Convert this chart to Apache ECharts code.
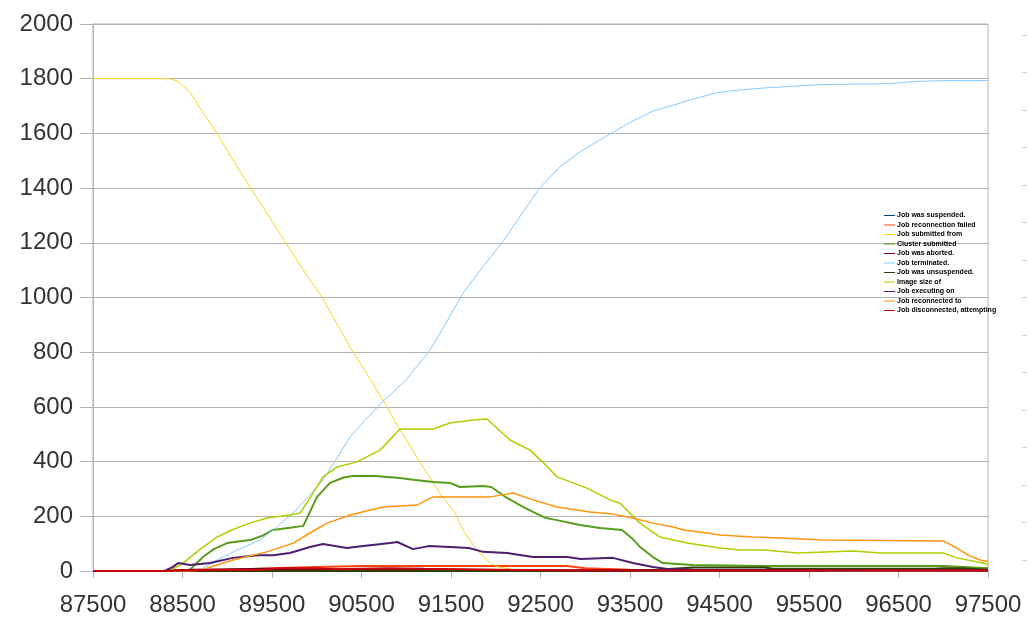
<!DOCTYPE html>
<html>
<head>
<meta charset="utf-8">
<script src="https://cdn.jsdelivr.net/npm/echarts@6/dist/echarts.min.js"></script>
<style>
html,body{margin:0;padding:0;background:#fff;}
#chart{width:1029px;height:622px;}
</style>
</head>
<body>
<div id="chart"></div>
<script>
// ---- data (x = sample number, y = job count) ----
const xTicks = [87500, 88500, 89500, 90500, 91500, 92500, 93500, 94500, 95500, 96500, 97500];
const yTicks = [0, 200, 400, 600, 800, 1000, 1200, 1400, 1600, 1800, 2000];

const seriesNames = [
  "Job was suspended.",
  "Job reconnection failed",
  "Job submitted from",
  "Cluster submitted",
  "Job was aborted.",
  "Job terminated.",
  "Job was unsuspended.",
  "Image size of",
  "Job executing on",
  "Job reconnected to",
  "Job disconnected, attempting"
];

const suspended = [[87500,0],[96000,0],[96100,3],[97500,3]];
const reconnectFailed = [[87500,0],[88300,0],[88500,3],[89000,5],[89500,10],[90000,15],[90500,18],[91500,18],[92800,18],[93000,10],[93500,5],[94000,3],[97500,3]];
const submitted = [[87500,1800],[88360,1800],[88450,1790],[88584,1751],[88700,1690],[88863,1612],[89050,1510],[89254,1404],[89450,1305],[89645,1203],[89850,1100],[90059,1002],[90230,900],[90405,801],[90600,700],[90785,600],[90930,516],[91150,400],[91377,285],[91545,212],[91650,140],[91790,77],[91936,29],[92025,15],[92200,5],[92500,0],[97500,0]];
const cluster = [[87500,0],[88500,0],[88584,5],[88729,51],[88850,80],[88997,102],[89254,113],[89400,130],[89511,150],[89700,158],[89850,165],[90003,271],[90148,322],[90300,342],[90405,347],[90650,347],[90930,340],[91100,333],[91300,325],[91490,322],[91600,307],[91858,311],[91950,307],[92126,267],[92300,235],[92416,216],[92550,195],[92684,186],[92941,168],[93165,157],[93411,150],[93520,120],[93612,88],[93757,51],[93869,29],[94200,22],[95000,18],[97000,18],[97500,10]];
const aborted = [[87500,0],[88300,0],[88600,5],[89500,8],[90500,5],[91500,5],[92800,3],[93800,4],[94000,2],[95700,2],[95800,6],[96000,6],[96100,2],[97500,2]];
const terminated = [[87500,0],[88500,0],[88700,5],[88885,40],[89100,75],[89366,113],[89550,160],[89735,212],[89900,270],[90070,333],[90220,410],[90372,490],[90550,555],[90740,620],[91000,700],[91265,808],[91450,910],[91634,1016],[91850,1110],[92087,1208],[92300,1310],[92494,1402],[92729,1481],[92950,1535],[93143,1572],[93300,1602],[93500,1640],[93757,1681],[94000,1705],[94200,1725],[94461,1748],[94700,1758],[94997,1766],[95300,1772],[95612,1778],[96000,1780],[96400,1782],[96700,1790],[97000,1793],[97500,1793]];
const unsuspended = [[87500,0],[93500,0],[93800,5],[94200,13],[95000,13],[95100,8],[96900,8],[97000,10],[97200,10],[97500,5]];
const imageSize = [[87500,0],[88360,0],[88505,29],[88700,80],[88885,124],[89050,150],[89250,175],[89444,194],[89700,205],[89813,212],[89950,280],[90070,344],[90226,380],[90450,399],[90707,442],[90930,519],[91299,519],[91490,541],[91746,552],[91902,556],[92159,479],[92383,442],[92550,390],[92684,344],[93020,303],[93277,260],[93388,248],[93612,175],[93835,124],[94137,102],[94505,84],[94729,77],[95000,77],[95366,66],[95991,73],[96300,66],[97000,66],[97150,48],[97444,29],[97500,25]];
const executing = [[87500,0],[88300,0],[88394,15],[88450,29],[88584,22],[88807,29],[89064,48],[89332,58],[89511,58],[89700,66],[89925,88],[90070,99],[90338,84],[90520,91],[90820,102],[90900,106],[91075,80],[91250,91],[91490,88],[91700,84],[91858,70],[92126,66],[92416,51],[92800,51],[92950,44],[93310,48],[93533,29],[93757,15],[93900,8],[94200,5],[97500,3]];
const reconnected = [[87500,0],[88600,0],[88700,3],[89064,40],[89444,70],[89735,102],[89925,139],[90115,175],[90372,205],[90740,234],[91120,241],[91299,271],[91936,271],[92193,285],[92416,260],[92684,234],[93053,216],[93310,208],[93533,194],[93757,175],[93980,161],[94100,150],[94360,139],[94505,132],[94874,124],[95176,121],[95656,113],[97000,110],[97150,84],[97280,58],[97410,40],[97500,35]];
const disconnected = [[87500,0],[88300,0],[88500,3],[89400,5],[89600,10],[90000,10],[90200,6],[90800,10],[91200,8],[92000,5],[93000,2],[97500,2]];

const seriesData = [suspended, reconnectFailed, submitted, cluster, aborted, terminated, unsuspended, imageSize, executing, reconnected, disconnected];
const seriesColors = ["#004586","#ff420e","#ffd320","#579d1c","#7e0021","#83caff","#314004","#aecf00","#4b1f6f","#ff950e","#c5000b"];
const seriesWidths = [2, 2, 1, 2, 2, 1, 2, 1.5, 2, 1.5, 2];

const chart = echarts.init(document.getElementById('chart'), null, {renderer:'canvas'});
const gridColor = '#b3b3b3';
const textColor = '#333333';

const series = seriesNames.map((name, i) => ({
  name: name,
  type: 'line',
  xAxisIndex: 0,
  yAxisIndex: 0,
  data: seriesData[i],
  symbol: 'none',
  showSymbol: false,
  animation: false,
  lineStyle: {color: seriesColors[i], width: seriesWidths[i]},
  itemStyle: {color: seriesColors[i]}
}));

chart.setOption({
  backgroundColor: '#ffffff',
  animation: false,
  textStyle: {fontFamily: 'Liberation Sans'},
  grid: [
    {left: 93, right: 41, top: 24, bottom: 51, show: true, borderColor: gridColor, borderWidth: 1, containLabel: false},
    {left: 1000, right: 7, top: 35, bottom: 62, show: false}
  ],
  legend: {
    orient: 'vertical',
    left: 879,
    top: 207,
    itemWidth: 11,
    itemHeight: 8,
    itemGap: 2.5,
    icon: 'path://M0,3.5 L11,3.5 L11,4.5 L0,4.5 Z',
    textStyle: {fontSize: 7, fontWeight: 'bold', color: '#000', fontFamily: 'Liberation Sans', padding: [0,0,0,-3]},
    data: seriesNames
  },
  xAxis: [
    {
      type: 'value',
      gridIndex: 0,
      min: xTicks[0],
      max: xTicks[xTicks.length-1],
      interval: 1000,
      axisLine: {show: true, lineStyle: {color: gridColor}},
      axisTick: {show: true, length: 7, lineStyle: {color: gridColor}},
      splitLine: {show: false},
      axisLabel: {color: textColor, fontSize: 24, margin: 22, fontFamily: 'Liberation Sans',
        formatter: v => String(v)}
    },
    {type: 'value', gridIndex: 1, min: 0, max: 1, show: false}
  ],
  yAxis: [
    {
      type: 'value',
      gridIndex: 0,
      min: yTicks[0],
      max: yTicks[yTicks.length-1],
      interval: 200,
      axisLine: {show: true, lineStyle: {color: gridColor}},
      axisTick: {show: true, length: 13, lineStyle: {color: gridColor}},
      splitLine: {show: true, lineStyle: {color: gridColor, width: 1}},
      axisLabel: {color: textColor, fontSize: 24, margin: 20, fontFamily: 'Liberation Sans',
        formatter: v => String(v)}
    },
    {
      type: 'value',
      gridIndex: 1,
      position: 'right',
      min: 0,
      max: 14,
      interval: 1,
      axisLine: {show: false, onZero: false},
      axisTick: {show: true, length: 5, lineStyle: {color: '#d0d0d0'}},
      splitLine: {show: false},
      axisLabel: {show: false}
    }
  ],
  series: series
});
</script>
</body>
</html>
